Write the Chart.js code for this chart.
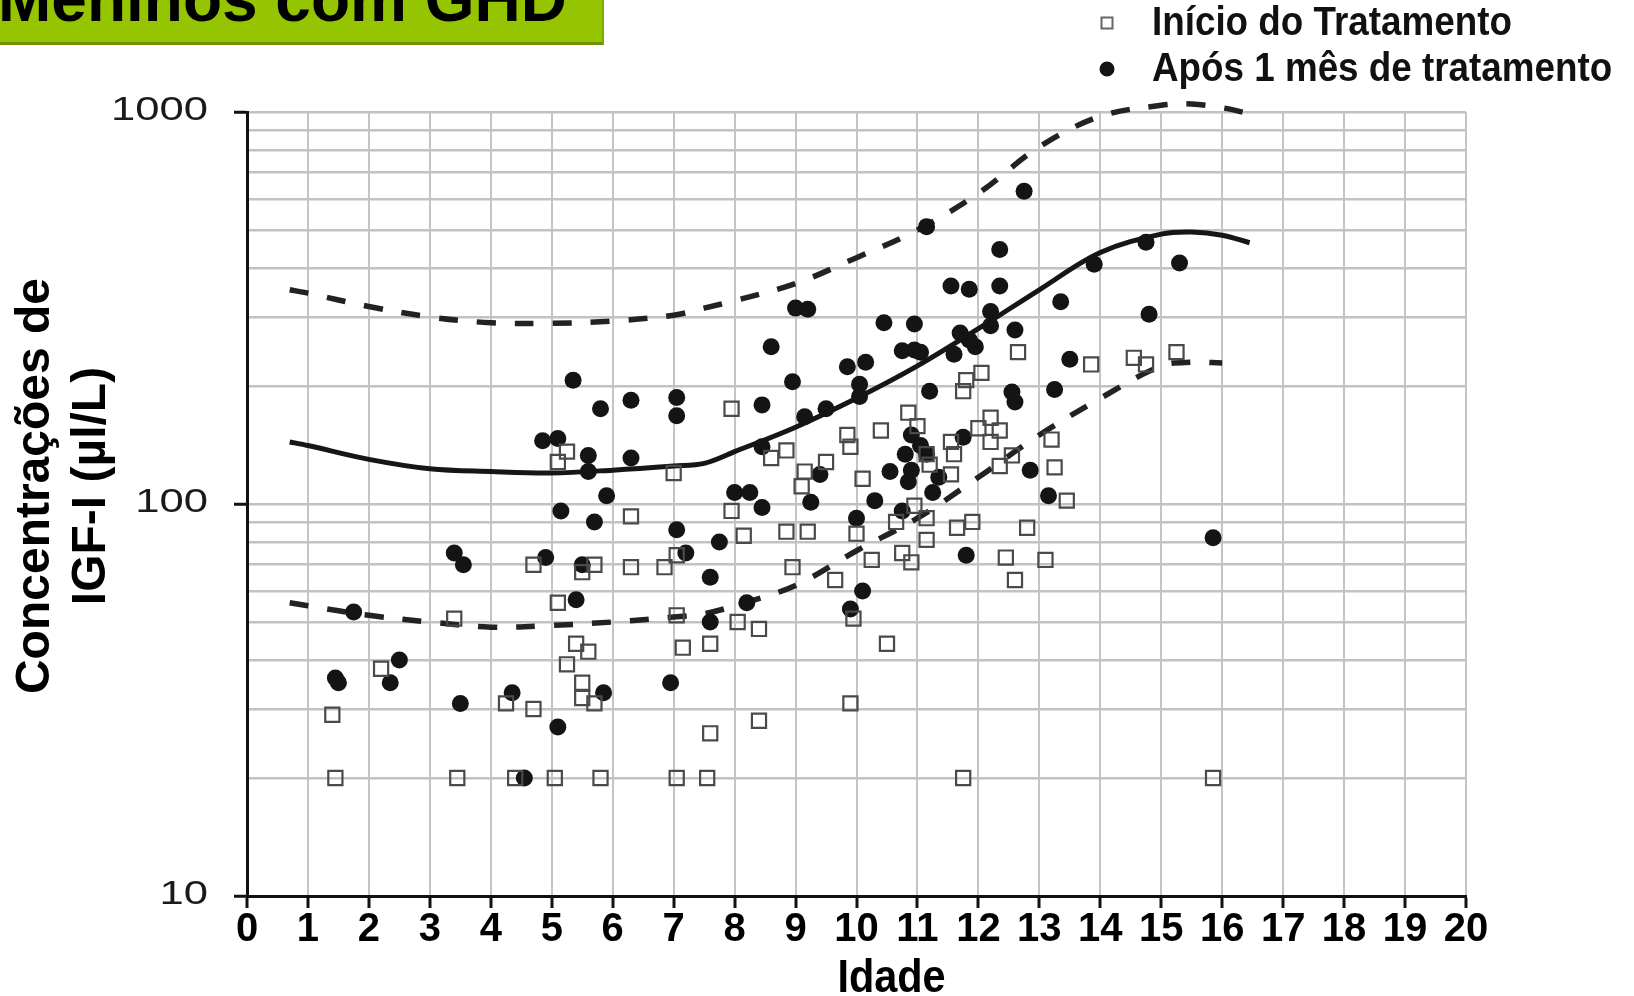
<!DOCTYPE html>
<html lang="pt-BR">
<head>
<meta charset="utf-8">
<title>IGF-I em meninos com GHD</title>
<script src="https://cdn.jsdelivr.net/npm/chart.js@4.4.1/dist/chart.umd.min.js"></script>
<style>
  html, body { margin: 0; padding: 0; background: #fff; overflow: hidden; }
  #wrap { position: relative; width: 1634px; height: 996px; }
  #igf-chart { position: absolute; left: 0; top: 0; }
  #banner {
    position: absolute; left: 0; top: 0; width: 602px; height: 42px;
    background: #95c400; border-bottom: 3px solid #6e9200; border-right: 2px solid #7fa800;
    overflow: hidden;
  }
  #banner span {
    position: absolute; left: -2px; top: -33px; white-space: nowrap; color: #000;
    font: bold 64px/64px "Liberation Sans", Arial, sans-serif;
  }
</style>
</head>
<body>
<div id="wrap">
  <canvas id="igf-chart" width="1634" height="996"></canvas>
  <div id="banner"><span>Meninos com GHD</span></div>
</div>
<script>
// Início do tratamento (quadrados)
const startAge = [1.4, 1.45, 2.2, 3.4, 3.45, 4.25, 4.4, 4.7, 4.7, 5.05,
  5.1, 5.1, 5.25, 5.25, 5.4, 5.5, 5.5, 5.5, 5.6, 5.7,
  5.7, 5.8, 6.3, 6.3, 6.85, 7.0, 7.05, 7.05, 7.05, 7.15,
  7.55, 7.6, 7.6, 7.95, 7.95, 8.05, 8.15, 8.4, 8.4, 8.6,
  8.85, 8.85, 8.95, 9.1, 9.15, 9.2, 9.5, 9.65, 9.85, 9.9,
  9.9, 9.95, 10.0, 10.1, 10.25, 10.4, 10.5, 10.65, 10.75, 10.85,
  10.9, 11.0, 10.95, 11.15, 11.15, 11.15, 11.2, 11.55, 11.55, 11.6,
  11.65, 11.75, 11.75, 11.8, 11.9, 12.0, 12.05, 12.2, 12.2, 12.35,
  12.35, 12.45, 12.55, 12.6, 12.65, 12.8, 13.1, 13.2, 13.25, 13.45,
  13.85, 14.55, 14.75, 15.25, 15.85];
const startIgf = [29, 20, 38, 51, 20, 31, 20, 30, 70, 20,
  56, 128, 136, 39, 44, 67, 35, 32, 42, 31,
  70, 20, 93, 69, 69, 120, 74, 52, 20, 43,
  20, 44, 26, 175, 96, 50, 83, 48, 28, 131,
  137, 85, 69, 111, 121, 85, 128, 64, 150, 140,
  31, 51, 84, 116, 72, 154, 44, 90, 75, 171,
  71, 158, 99, 134, 92, 81, 126, 144, 119, 134,
  87, 20, 194, 207, 90, 156, 216, 166, 144, 154,
  125, 73, 133, 64, 244, 87, 72, 146, 124, 102,
  227, 236, 227, 244, 20];

// Após 1 mês de tratamento (círculos)
const afterAge = [1.45, 1.5, 1.75, 2.35, 2.5, 3.4, 3.55, 3.5, 4.35, 4.55,
  4.9, 4.85, 5.1, 5.15, 5.1, 5.35, 5.4, 5.6, 5.6, 5.5,
  5.7, 5.8, 5.85, 5.9, 6.3, 6.3, 7.05, 7.05, 7.05, 7.2,
  6.95, 7.6, 7.6, 7.75, 8.0, 8.25, 8.45, 8.2, 8.45, 8.45,
  8.6, 8.95, 9.0, 9.2, 9.15, 9.25, 9.4, 9.5, 9.85, 10.05,
  10.05, 10.15, 10.0, 9.9, 10.1, 10.3, 10.45, 10.55, 10.75, 10.75,
  10.95, 11.05, 10.95, 10.9, 10.8, 10.85, 10.9, 11.05, 11.15, 11.35,
  11.25, 11.75, 11.2, 11.15, 11.55, 11.85, 11.7, 11.95, 11.6, 11.85,
  11.8, 12.2, 12.2, 12.35, 12.35, 12.55, 12.6, 12.6, 12.75, 12.85,
  13.15, 13.25, 13.35, 13.5, 13.9, 14.75, 14.8, 15.3, 15.85];
const afterIgf = [36, 35, 53, 35, 40, 75, 70, 31, 33, 20,
  73, 145, 147, 96, 27, 207, 57, 133, 121, 70,
  90, 175, 33, 105, 184, 131, 187, 168, 86, 75,
  35, 50, 65, 80, 107, 107, 98, 56, 179, 140,
  252, 205, 316, 314, 167, 101, 119, 175, 224, 202,
  188, 230, 92, 54, 60, 102, 290, 121, 96, 246,
  247, 244, 288, 150, 134, 114, 122, 141, 134, 117,
  107, 148, 194, 510, 360, 353, 273, 252, 241, 262,
  74, 310, 285, 360, 446, 193, 182, 278, 628, 122,
  105, 196, 328, 234, 409, 465, 305, 412, 82];

// Curvas de referência
const curveAge = [0.7, 1, 2, 3, 4, 5, 6, 7, 7.5, 8, 9, 10, 11, 12, 13, 14, 15, 15.5, 16, 16.45];
const upperCurve = [352, 345, 319, 300, 290, 289, 293, 303, 316, 330, 365, 425, 500, 620, 815, 975, 1040, 1048, 1025, 990];
const medianCurve = [144, 141, 130, 123, 121, 120, 122, 125, 127, 136, 157, 186, 225, 280, 352, 438, 488, 494, 485, 464];
const lowerCurve = [56, 55, 52, 50, 48.5, 49, 50, 51.5, 52.5, 55, 62, 76, 92, 117, 150, 186, 225, 230, 229, null];

const yTickValues = [10, 20, 30, 40, 50, 60, 70, 80, 90, 100, 200, 300, 400, 500, 600, 700, 800, 900, 1000];
const yLabelValues = [10, 100, 1000];
const yTitleLines = ['Concentrações de', 'IGF-I (µl/L)'];
const xTitle = 'Idade';

const SANS = '"Liberation Sans", Arial, sans-serif';

function toPoints(xs, ys) {
    return xs.map((x, i) => ({ x: x, y: ys[i] })).filter(p => p.y !== null);
}

// texto com largura ajustada (a fonte original é mais estreita ou mais larga)
function stretchedText(ctx, text, x, y, sx) {
    ctx.save();
    ctx.translate(x, y);
    ctx.scale(sx, 1);
    ctx.fillText(text, 0, 0);
    ctx.restore();
}

// legenda no canto superior direito, desenhada a partir dos datasets de pontos
const cornerLegend = {
    id: 'cornerLegend',
    afterDraw(chart) {
        const ctx = chart.ctx;
        const rows = chart.data.datasets.filter(ds => !ds.showLine);
        ctx.save();
        rows.forEach((ds, i) => {
            const cy = 23 + i * 46;
            const cx = 1107;
            ctx.lineWidth = 2;
            ctx.strokeStyle = ds.pointStyle === 'rect' ? '#666' : ds.borderColor;
            ctx.fillStyle = ds.backgroundColor;
            ctx.beginPath();
            if (ds.pointStyle === 'rect') {
                ctx.rect(cx - 5.5, cy - 5.5, 11, 11);
            } else {
                ctx.arc(cx, cy, 6.5, 0, Math.PI * 2);
            }
            ctx.fill();
            ctx.stroke();
            ctx.fillStyle = '#111';
            ctx.font = 'bold 40px ' + SANS;
            ctx.textBaseline = 'middle';
            ctx.textAlign = 'left';
            stretchedText(ctx, ds.label, 1152, cy + 1, 0.92);
        });
        ctx.restore();
    }
};

// rótulos do eixo y e títulos dos eixos
const axisText = {
    id: 'axisText',
    afterDraw(chart) {
        const ctx = chart.ctx;
        const area = chart.chartArea;
        const yScale = chart.scales.y;
        ctx.save();
        ctx.fillStyle = '#1a1a1a';
        ctx.font = '33px ' + SANS;
        ctx.textAlign = 'right';
        ctx.textBaseline = 'middle';
        yLabelValues.forEach(v => {
            stretchedText(ctx, String(v), area.left - 39, yScale.getPixelForValue(v) - 1, 1.32);
        });

        ctx.fillStyle = '#000';
        ctx.font = 'bold 48px ' + SANS;
        ctx.textAlign = 'center';
        yTitleLines.forEach((line, i) => {
            ctx.save();
            ctx.translate(36 + i * 56, (area.top + area.bottom) / 2 - 18);
            ctx.rotate(-Math.PI / 2);
            ctx.fillText(line, 0, 0);
            ctx.restore();
        });

        ctx.font = 'bold 46px ' + SANS;
        stretchedText(ctx, xTitle, (area.left + area.right) / 2 + 35, 979, 0.9);
        ctx.restore();
    }
};

document.addEventListener('DOMContentLoaded', function() {
    const ctx = document.getElementById('igf-chart').getContext('2d');

    new Chart(ctx, {
        type: 'scatter',
        data: {
            datasets: [{
                label: 'Início do Tratamento',
                data: toPoints(startAge, startIgf),
                pointStyle: 'rect',
                pointRadius: 10,
                borderWidth: 2.2,
                borderColor: '#4a4a4a',
                backgroundColor: 'rgba(255,255,255,0)'
            }, {
                label: 'Após 1 mês de tratamento',
                data: toPoints(afterAge, afterIgf),
                pointStyle: 'circle',
                pointRadius: 8.5,
                borderWidth: 0,
                borderColor: '#141414',
                backgroundColor: '#141414'
            }, {
                label: 'P50',
                data: toPoints(curveAge, medianCurve),
                showLine: true,
                pointRadius: 0,
                borderColor: '#161616',
                borderWidth: 5,
                tension: 0.35
            }, {
                label: '+2 DP',
                data: toPoints(curveAge, upperCurve),
                showLine: true,
                pointRadius: 0,
                borderColor: '#222',
                borderWidth: 5.5,
                borderDash: [19, 19],
                tension: 0.35,
                clip: false
            }, {
                label: '-2 DP',
                data: toPoints(curveAge, lowerCurve),
                showLine: true,
                pointRadius: 0,
                borderColor: '#222',
                borderWidth: 5.5,
                borderDash: [19, 19],
                tension: 0.35
            }]
        },
        options: {
            responsive: false,
            animation: false,
            devicePixelRatio: 1,
            layout: { padding: { top: 112, right: 168, left: 0, bottom: 0 } },
            plugins: { legend: { display: false }, tooltip: { enabled: false } },
            scales: {
                x: {
                    type: 'linear',
                    min: 0,
                    max: 20,
                    afterFit: s => { s.height = 100; },
                    ticks: {
                        stepSize: 1,
                        autoSkip: false,
                        maxRotation: 0,
                        padding: -2,
                        color: '#000',
                        font: { family: SANS, size: 40, weight: 'bold' }
                    },
                    grid: {
                        color: '#c4c4c4',
                        lineWidth: 2,
                        tickLength: 12,
                        tickColor: '#111',
                        tickWidth: 3
                    },
                    border: { color: '#111', width: 3 },
                    title: { display: false }
                },
                y: {
                    type: 'logarithmic',
                    min: 10,
                    max: 1000,
                    afterFit: s => { s.width = 247; },
                    afterBuildTicks: s => { s.ticks = yTickValues.map(v => ({ value: v })); },
                    ticks: { display: false },
                    grid: {
                        color: '#c2c2c2',
                        lineWidth: 2.5,
                        tickLength: 13,
                        tickWidth: 3,
                        tickColor: c => yLabelValues.includes(c.tick.value) ? '#111' : 'rgba(0,0,0,0)'
                    },
                    border: { color: '#111', width: 3 },
                    title: { display: false }
                }
            }
        },
        plugins: [cornerLegend, axisText]
    });
});
</script>
</body>
</html>
